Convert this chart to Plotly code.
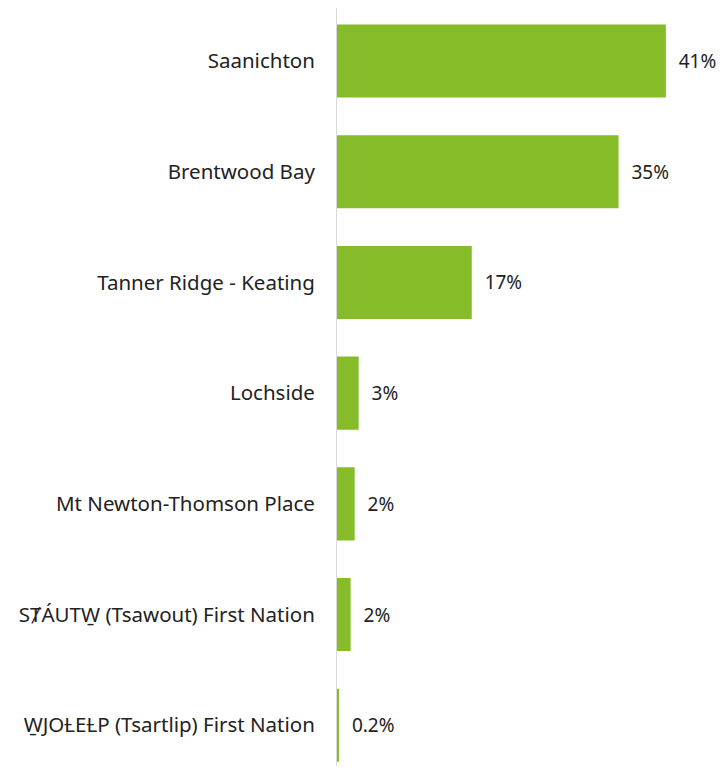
import plotly.graph_objects as go

categories = [
    "Saanichton",
    "Brentwood Bay",
    "Tanner Ridge - Keating",
    "Lochside",
    "Mt Newton-Thomson Place",
    "S\u023eÁUTW\u0331 (Tsawout) First Nation",
    "W\u0331JO\u023dE\u023dP (Tsartlip) First Nation",
]
values = [41, 35.1, 16.8, 2.7, 2.2, 1.7, 0.2]
value_labels = ["41%", "35%", "17%", "3%", "2%", "2%", "0.2%"]

fig = go.Figure(
    go.Bar(
        x=values,
        y=categories,
        orientation="h",
        marker=dict(color="#86BC29", line=dict(width=0)),
        text=["  " + t for t in value_labels],
        textposition="outside",
        textfont=dict(size=19, color="#222222"),
        cliponaxis=False,
        width=0.66,
    )
)

fig.update_layout(
    width=710,
    height=758,
    margin=dict(l=329, r=0, t=0, b=0, autoexpand=False),
    plot_bgcolor="white",
    paper_bgcolor="white",
    font=dict(family="Noto Sans, Open Sans, sans-serif", size=20.5, color="#222222"),
    showlegend=False,
)
fig.update_xaxes(range=[0, 47.5], visible=False, showgrid=False, zeroline=False)
fig.update_yaxes(
    range=[6.368, -0.479],
    showgrid=False,
    zeroline=False,
    showline=True,
    linecolor="#d9d9d9",
    linewidth=1,
    ticks="",
    ticklabelstandoff=17,
    tickfont=dict(size=20.5, color="#222222"),
    automargin=False,
)

fig.write_html("out.html")
